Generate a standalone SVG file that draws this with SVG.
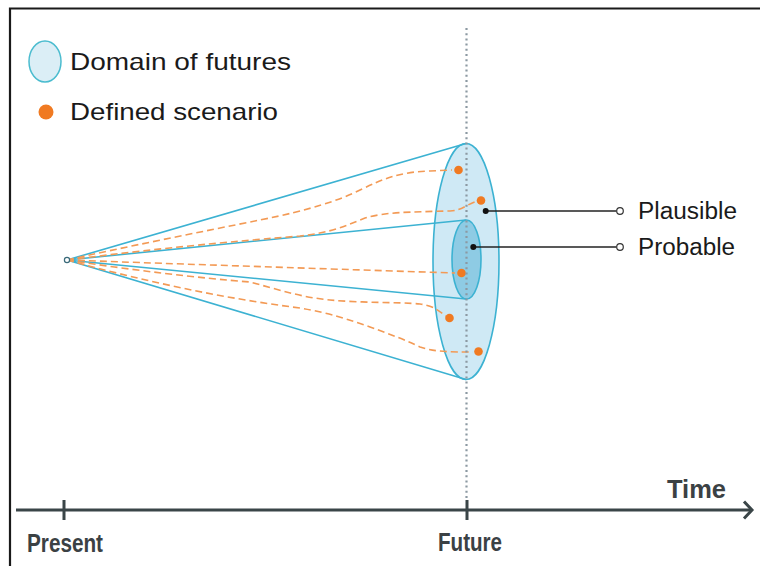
<svg xmlns="http://www.w3.org/2000/svg" width="760" height="566" viewBox="0 0 760 566">
<defs>
<style>
.lbl{font-family:"Liberation Sans",Arial,sans-serif;font-size:24px;fill:#1a1a1a}
.ax{font-family:"Liberation Sans",Arial,sans-serif;font-weight:bold;font-size:25px;fill:#3b4144}
.cone{stroke:#3cb2d2;stroke-width:1.6;fill:none}
.path{stroke:#f39a55;stroke-width:1.6;fill:none;stroke-dasharray:7 4}
.dot{fill:#f07a22}
.lead{stroke:#222;stroke-width:1.3;fill:none}
.axis{stroke:#3a4548;stroke-width:3;fill:none}
</style>
</defs>
<rect x="0" y="0" width="760" height="566" fill="#ffffff"/>
<path d="M10,566 V8.5 H760" fill="none" stroke="#1a1a1a" stroke-width="2.2"/>

<g id="legend">
<ellipse cx="45" cy="61.5" rx="16" ry="20.5" fill="#dbeef6" stroke="#4bbccf" stroke-width="1.5"/>
<text class="lbl" x="70" y="70" textLength="221" lengthAdjust="spacingAndGlyphs">Domain of futures</text>
<circle class="dot" cx="46" cy="112" r="7.5"/>
<text class="lbl" x="70" y="120" textLength="208" lengthAdjust="spacingAndGlyphs">Defined scenario</text>
</g>

<g id="outer-domain">
<ellipse cx="466" cy="261.5" rx="33" ry="118" fill="#cfe9f5" stroke="#3cb2d2" stroke-width="1.6"/>
</g>

<g id="connectors">
<path class="cone" d="M67,260 L466,143.5 M67,260 L466,379.5 M67,260 L466,220 M67,260 L466,299"/>
</g>

<g id="inner-domain">
<ellipse cx="466.5" cy="259.5" rx="14.5" ry="39.5" fill="#8ecbe4" stroke="#3cb2d2" stroke-width="1.6"/>
</g>

<g id="scenario-paths">
<path class="path" d="M67,260 C120,248 200,232 260,220 C310,210 340,200 360,190 C385,178 400,172 430,171 L452,170"/>
<path class="path" d="M67,260 C130,252 200,244 300,236 C330,233 345,226 365,218 C385,212 410,212 450,211 C462,211 468,203 478,201"/>
<path class="path" d="M67,260 C150,263 300,268 455,273"/>
<path class="path" d="M67,260 C130,270 200,278 250,282 C280,290 300,297 330,300 C360,303 400,302 420,304 C435,306 440,312 446,316"/>
<path class="path" d="M67,260 C140,280 220,298 300,308 C330,313 350,320 370,327 C395,336 405,340 420,347 C435,352 450,352 473,352"/>
</g>

<g id="present-node">
<circle cx="67" cy="260" r="2.6" fill="#ffffff" stroke="#3a6a7a" stroke-width="1.2"/>
</g>

<g id="scenarios">
<circle class="dot" cx="458.5" cy="170" r="4.3"/>
<circle class="dot" cx="481" cy="200.5" r="4.3"/>
<circle class="dot" cx="461.5" cy="273" r="4.3"/>
<circle class="dot" cx="449.5" cy="318" r="4.3"/>
<circle class="dot" cx="478.5" cy="351.5" r="4.3"/>
</g>

<line x1="466.5" y1="28" x2="466.5" y2="500" stroke="#8c99a2" stroke-width="2.2" stroke-dasharray="2 3.2"/>

<g id="plausible">
<path class="lead" d="M485.7,211 H616.5"/>
<circle cx="485.7" cy="211" r="3" fill="#111"/>
<circle cx="620" cy="211" r="3.3" fill="#ffffff" stroke="#333" stroke-width="1.2"/>
<text class="lbl" x="638" y="218.5" style="font-size:23px" textLength="99" lengthAdjust="spacingAndGlyphs">Plausible</text>
</g>

<g id="probable">
<path class="lead" d="M473.3,247 H616.5"/>
<circle cx="473.3" cy="247" r="3" fill="#111"/>
<circle cx="620" cy="247" r="3.3" fill="#ffffff" stroke="#333" stroke-width="1.2"/>
<text class="lbl" x="638" y="255" style="font-size:23px" textLength="97" lengthAdjust="spacingAndGlyphs">Probable</text>
</g>

<g id="time-axis">
<path class="axis" d="M16,510 H751"/>
<path class="axis" d="M744,501.5 L752,510 L744,518.5" stroke-width="2.6"/>
<path class="axis" d="M64,500 V520 M467,500 V520" stroke-width="2"/>
<text class="ax" x="667" y="498" textLength="59" lengthAdjust="spacingAndGlyphs">Time</text>
<text class="ax" x="27" y="552" textLength="76" lengthAdjust="spacingAndGlyphs">Present</text>
<text class="ax" x="438" y="551" textLength="64" lengthAdjust="spacingAndGlyphs">Future</text>
</g>
</svg>
